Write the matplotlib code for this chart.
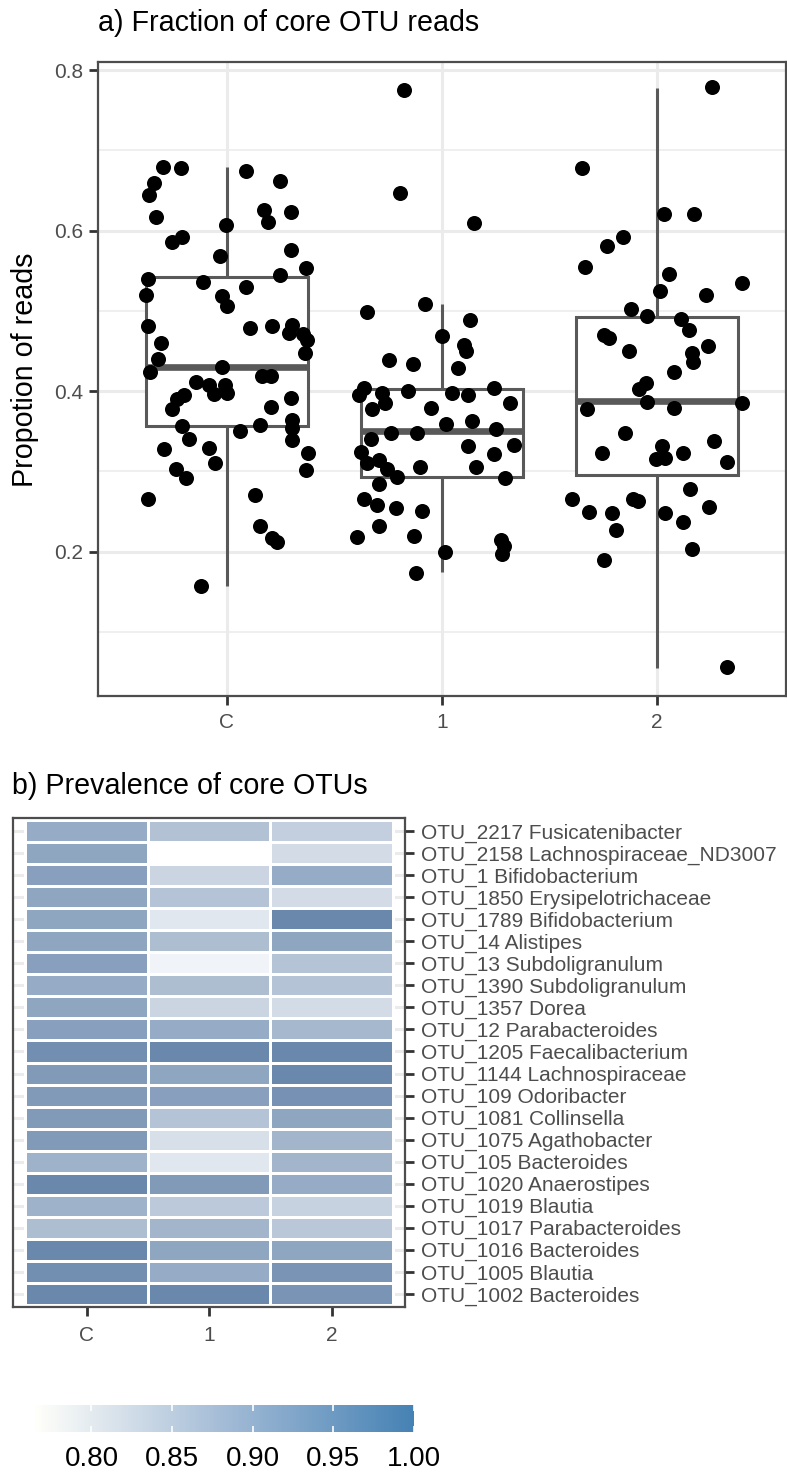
import matplotlib
matplotlib.use('Agg')
import matplotlib.pyplot as plt
import numpy as np
from matplotlib.colors import LinearSegmentedColormap, Normalize
from matplotlib.cm import ScalarMappable

plt.rcParams['font.family'] = ['Liberation Sans', 'DejaVu Sans']

# ---------------- data: panel a ----------------
groups = ['C', '1', '2']

c_y = [0.679, 0.678, 0.659, 0.644, 0.617, 0.674, 0.662, 0.626, 0.611, 0.623,
       0.607, 0.592, 0.586, 0.568, 0.576, 0.553, 0.545, 0.540, 0.536, 0.530,
       0.520, 0.518, 0.506, 0.481, 0.479, 0.481, 0.482, 0.472, 0.471, 0.464,
       0.460, 0.447, 0.440, 0.424, 0.430, 0.419, 0.419, 0.411, 0.408, 0.408,
       0.396, 0.398, 0.395, 0.390, 0.391, 0.378, 0.380, 0.356, 0.364, 0.354,
       0.358, 0.350, 0.340, 0.339, 0.328, 0.329, 0.323, 0.310, 0.303, 0.292,
       0.302, 0.266, 0.270, 0.232, 0.217, 0.212, 0.157]
c_dx = [-0.298, -0.214, -0.340, -0.363, -0.330, 0.088, 0.247, 0.172, 0.191, 0.298,
        -0.005, -0.209, -0.256, -0.033, 0.298, 0.367, 0.247, -0.367, -0.112, 0.088,
        -0.377, -0.023, 0.000, -0.367, 0.107, 0.209, 0.302, 0.288, 0.353, 0.372,
        -0.307, 0.363, -0.321, -0.358, -0.023, 0.163, 0.205, -0.144, -0.084, -0.009,
        -0.060, 0.000, -0.200, -0.233, 0.298, -0.256, 0.205, -0.209, 0.302, 0.302,
        0.153, 0.060, -0.177, 0.302, -0.293, -0.084, 0.377, -0.056, -0.237, -0.191,
        0.367, -0.367, 0.130, 0.153, 0.209, 0.233, -0.121]

g1_y = [0.775, 0.647, 0.609, 0.508, 0.498, 0.488, 0.469, 0.457, 0.450, 0.439,
        0.434, 0.429, 0.404, 0.395, 0.398, 0.385, 0.378, 0.400, 0.398, 0.395,
        0.404, 0.385, 0.379, 0.359, 0.363, 0.353, 0.348, 0.348, 0.340, 0.324,
        0.332, 0.333, 0.322, 0.310, 0.314, 0.303, 0.293, 0.305, 0.305, 0.292,
        0.284, 0.265, 0.258, 0.254, 0.251, 0.232, 0.218, 0.219, 0.199, 0.214,
        0.207, 0.197, 0.173]
g1_dx = [-0.177, -0.195, 0.149, -0.079, -0.349, 0.130, 0.000, 0.102, 0.112, -0.247,
         -0.135, 0.074, -0.363, -0.386, -0.279, -0.265, -0.326, -0.158, 0.047, 0.121,
         0.242, 0.316, -0.051, 0.019, 0.140, 0.251, -0.237, -0.116, -0.330, -0.377,
         0.121, 0.335, 0.242, -0.349, -0.293, -0.256, -0.209, -0.102, 0.158, 0.293,
         -0.293, -0.363, -0.302, -0.214, -0.093, -0.293, -0.395, -0.130, 0.014, 0.274,
         0.288, 0.279, -0.121]

g2_y = [0.779, 0.678, 0.621, 0.621, 0.592, 0.581, 0.555, 0.546, 0.535, 0.525,
        0.520, 0.502, 0.494, 0.490, 0.476, 0.470, 0.466, 0.456, 0.450, 0.447,
        0.436, 0.424, 0.410, 0.403, 0.386, 0.378, 0.379, 0.385, 0.348, 0.323,
        0.331, 0.315, 0.317, 0.323, 0.338, 0.311, 0.278, 0.265, 0.249, 0.248,
        0.265, 0.263, 0.248, 0.256, 0.237, 0.227, 0.203, 0.189, 0.056]
g2_dx = [0.256, -0.349, 0.033, 0.172, -0.158, -0.233, -0.335, 0.056, 0.395, 0.014,
         0.228, -0.121, -0.047, 0.112, 0.149, -0.247, -0.223, 0.237, -0.130, 0.163,
         0.167, 0.079, -0.051, -0.084, -0.047, -0.326, 0.079, 0.395, -0.149, -0.256,
         0.023, -0.005, 0.037, 0.121, 0.265, 0.326, 0.153, -0.395, -0.316, -0.209,
         -0.112, -0.088, 0.037, 0.242, 0.121, -0.191, 0.163, -0.247, 0.326]

box_lo = [0.157, 0.174, 0.055]
box_q1 = [0.356, 0.293, 0.295]
box_med = [0.430, 0.350, 0.387]
box_q3 = [0.542, 0.402, 0.492]
box_hi = [0.679, 0.508, 0.777]

y_major = [0.2, 0.4, 0.6, 0.8]
y_minor = [0.1, 0.3, 0.5, 0.7]

# ---------------- data: panel b ----------------
otu_labels = ['OTU_2217 Fusicatenibacter', 'OTU_2158 Lachnospiraceae_ND3007',
              'OTU_1 Bifidobacterium', 'OTU_1850 Erysipelotrichaceae',
              'OTU_1789 Bifidobacterium', 'OTU_14 Alistipes', 'OTU_13 Subdoligranulum',
              'OTU_1390 Subdoligranulum', 'OTU_1357 Dorea', 'OTU_12 Parabacteroides',
              'OTU_1205 Faecalibacterium', 'OTU_1144 Lachnospiraceae', 'OTU_109 Odoribacter',
              'OTU_1081 Collinsella', 'OTU_1075 Agathobacter', 'OTU_105 Bacteroides',
              'OTU_1020 Anaerostipes', 'OTU_1019 Blautia', 'OTU_1017 Parabacteroides',
              'OTU_1016 Bacteroides', 'OTU_1005 Blautia', 'OTU_1002 Bacteroides']
prev_C = [0.930, 0.941, 0.953, 0.941, 0.941, 0.941, 0.953, 0.930, 0.941, 0.953, 0.988,
          0.965, 0.965, 0.965, 0.965, 0.918, 1.000, 0.918, 0.894, 1.000, 0.988, 1.000]
prev_1 = [0.887, 0.765, 0.847, 0.883, 0.812, 0.894, 0.789, 0.894, 0.847, 0.930, 1.000,
          0.941, 0.953, 0.883, 0.828, 0.812, 0.965, 0.871, 0.911, 0.941, 0.930, 1.000]
prev_2 = [0.859, 0.836, 0.930, 0.836, 1.000, 0.941, 0.883, 0.883, 0.836, 0.906, 1.000,
          1.000, 0.981, 0.941, 0.911, 0.911, 0.930, 0.854, 0.875, 0.941, 0.977, 0.977]
cbar_ticks = [0.80, 0.85, 0.90, 0.95, 1.00]
prev_min, prev_max = 0.765, 1.0

# ---------------- figure ----------------
W, H = 787, 1475
fig = plt.figure(figsize=(W / 100, H / 100), dpi=100)


def frame(l, t, r, b):
    return [l / W, 1 - b / H, (r - l) / W, (b - t) / H]


GRID = '#EBEBEB'
BOXC = '#595959'
SPINE = '#4D4D4D'
TICKC = '#333333'
TXT = '#4D4D4D'

# ---- panel a ----
ax1 = fig.add_axes(frame(98, 62, 786, 696))
ax1.set_axisbelow(True)

stats = []
for i in range(3):
    stats.append(dict(whislo=box_lo[i], q1=box_q1[i], med=box_med[i],
                      q3=box_q3[i], whishi=box_hi[i], fliers=[]))
ax1.bxp(stats, positions=[1, 2, 3], widths=0.75, showfliers=False, showcaps=False,
        patch_artist=True, manage_ticks=False,
        boxprops=dict(facecolor='white', edgecolor=BOXC, lw=2.2),
        whiskerprops=dict(color=BOXC, lw=2.2, solid_capstyle='butt'),
        medianprops=dict(color=BOXC, lw=4.8, solid_capstyle='butt'))

for pos, ys, dxs in [(1, c_y, c_dx), (2, g1_y, g1_dx), (3, g2_y, g2_dx)]:
    ax1.scatter(pos + np.array(dxs), ys, s=117, c='black', lw=0, zorder=4)

ax1.set_xlim(0.4, 3.6)
ax1.set_ylim(0.020, 0.810)
ax1.set_yticks(y_major)
ax1.set_yticks(y_minor, minor=True)
ax1.set_yticklabels([f'{v:.1f}' for v in y_major])
ax1.set_xticks([1, 2, 3])
ax1.set_xticklabels(groups)
ax1.grid(which='major', color=GRID, lw=2.2)
ax1.grid(which='minor', axis='y', color=GRID, lw=1.1)

ax1.tick_params(which='major', length=6.5, width=2, color=TICKC,
                labelsize=15, labelcolor=TXT, pad=4)
ax1.tick_params(axis='x', pad=6)
ax1.tick_params(which='minor', length=0)
for s in ax1.spines.values():
    s.set_color(SPINE)
    s.set_linewidth(1.6)

fig.text(98 / W, 1 - 23 / H, 'a) Fraction of core OTU reads', fontsize=20.6,
         ha='left', va='center')
fig.text(25 / W, 1 - 370 / H, 'Propotion of reads', fontsize=20.6, rotation=90,
         ha='center', va='center')

# ---- panel b ----
tile_cmap = LinearSegmentedColormap.from_list('tile', ['#FFFFFF', '#6A88AC'])
bar_cmap = LinearSegmentedColormap.from_list('bar', ['#FFFFFA', '#A3BBD6', '#4682B4'])
norm = Normalize(vmin=prev_min, vmax=prev_max)

ax2 = fig.add_axes(frame(13, 818, 405, 1307))
n = len(otu_labels)
Z = np.array([prev_C, prev_1, prev_2]).T[::-1]
ax2.set_axisbelow(True)
ax2.grid(which='major', color=GRID, lw=2.2)
ax2.pcolormesh(np.arange(0.5, 4.0, 1.0), np.arange(0.5, n + 1.0, 1.0), Z,
               cmap=tile_cmap, norm=norm, edgecolors='white', linewidth=0.8, zorder=2)
ax2.set_xlim(0.4, 3.6)
ax2.set_ylim(0.4, n + 0.6)
ax2.set_xticks([1, 2, 3])
ax2.set_xticklabels(groups)
ax2.set_yticks(np.arange(1, n + 1))
ax2.set_yticklabels(otu_labels[::-1])
ax2.yaxis.tick_right()
ax2.tick_params(length=6.5, width=2, color=TICKC, labelsize=15, labelcolor=TXT)
ax2.tick_params(axis='y', pad=5)
ax2.tick_params(axis='x', pad=7)
for s in ax2.spines.values():
    s.set_color(SPINE)
    s.set_linewidth(1.6)

fig.text(12 / W, 1 - 786 / H, 'b) Prevalence of core OTUs', fontsize=20.6,
         ha='left', va='center')

# ---- colorbar ----
cax = fig.add_axes(frame(35, 1405, 414, 1432))
cb = fig.colorbar(ScalarMappable(norm=norm, cmap=bar_cmap), cax=cax,
                  orientation='horizontal', ticks=cbar_ticks)
cb.outline.set_visible(False)
cax.set_xticklabels([f'{t:.2f}' for t in cbar_ticks])
cax.tick_params(direction='in', color='white', length=4, width=1.2,
                labelsize=20, labelcolor='black', pad=10, top=True)

fig.savefig('out.png', dpi=100)
